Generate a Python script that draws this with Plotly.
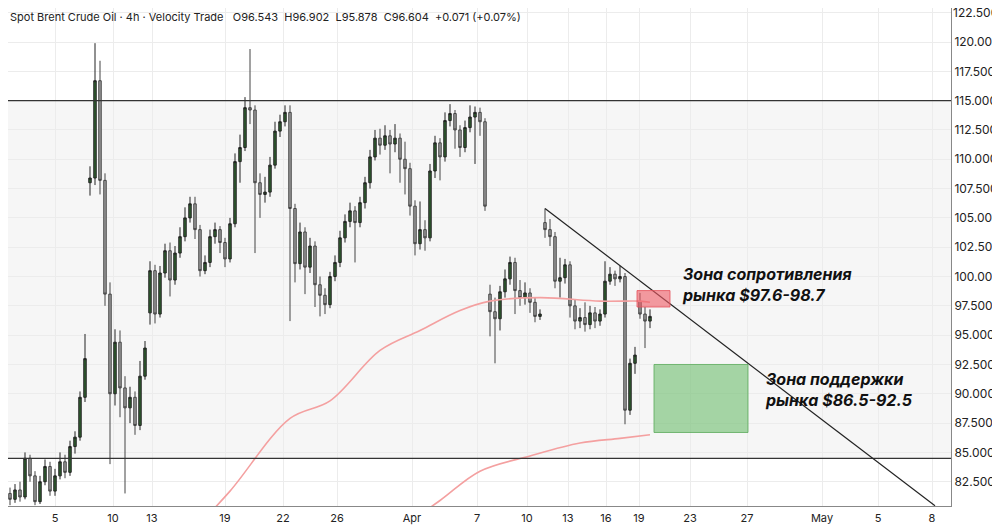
import plotly.graph_objects as go

# 4h candles, x = candle number
closes = [81.5, 81.0, 81.8, 81.2, 84.5, 83.0, 80.8, 82.5, 83.8, 81.7,
          83.0, 84.2, 83.3, 85.5, 86.3, 89.7, 93.0, 108.4, 116.7, 108.2,
          98.5, 90.0, 94.4, 90.5, 88.8, 89.7, 87.3, 91.5, 93.9, 100.5,
          96.8, 100.3, 102.2, 99.7, 102.0, 103.4, 105.0, 106.2, 104.0, 100.5,
          101.2, 103.4, 104.0, 102.9, 101.5, 104.5, 109.8, 111.0, 114.4, 114.2,
          108.0, 107.0, 107.2, 109.5, 112.4, 113.2, 114.0, 105.8, 101.1, 103.8,
          100.8, 102.6, 99.3, 98.4, 97.6, 100.0, 101.2, 103.3, 104.7, 105.6,
          104.6, 106.3, 108.0, 110.2, 111.8, 111.2, 112.0, 111.3, 111.8, 110.0,
          109.2, 106.0, 102.8, 104.0, 103.3, 109.0, 111.4, 110.2, 113.3, 113.9,
          112.5, 111.0, 112.7, 113.6, 114.0, 113.2, 106.0, 97.0, 96.4, 98.7,
          99.8, 101.2, 98.8, 98.2, 98.6, 97.8, 96.6, 96.8, 104.0, 103.4,
          99.6, 99.9, 101.0, 97.5, 96.2, 96.5, 95.9, 96.9, 96.2, 96.8,
          99.6, 100.2, 99.8, 100.0, 88.6, 92.6, 93.3, 96.8, 96.2, 96.6]
highs = [82.0, 82.0, 82.3, 82.5, 85.0, 84.8, 83.4, 83.0, 84.4, 84.2,
         83.6, 85.0, 84.8, 86.0, 86.8, 90.2, 95.1, 109.4, 119.9, 118.4,
         108.8, 99.5, 95.5, 95.4, 91.5, 90.6, 90.2, 92.8, 94.5, 101.3,
         101.0, 100.9, 102.8, 102.9, 102.6, 104.2, 105.9, 106.8, 106.8, 104.4,
         101.8, 104.0, 104.6, 104.3, 103.3, 105.0, 110.5, 112.1, 115.3, 119.4,
         114.6, 108.8, 108.5, 110.2, 113.2, 113.8, 114.6, 114.6, 106.2, 104.6,
         104.2, 103.3, 103.0, 100.0, 99.0, 100.4, 101.8, 103.9, 105.3, 106.3,
         106.0, 106.8, 108.5, 110.8, 112.5, 112.6, 112.9, 112.5, 113.0, 112.2,
         111.5, 109.7, 106.5, 106.4, 104.8, 109.6, 112.0, 111.8, 114.0, 114.7,
         114.2, 112.9, 113.3, 114.6, 114.5, 114.4, 113.5, 99.3, 98.2, 99.2,
         100.6, 101.7, 101.6, 99.7, 99.5, 99.0, 98.2, 97.2, 105.8, 104.9,
         103.8, 101.6, 101.5, 101.3, 98.0, 97.3, 97.8, 97.5, 97.4, 97.2,
         101.3, 100.8, 100.5, 100.9, 100.3, 93.0, 94.0, 98.6, 97.4, 97.2]
lows = [80.6, 80.5, 80.7, 80.8, 81.0, 82.5, 80.5, 80.6, 82.2, 81.3,
        81.3, 82.7, 82.8, 83.0, 84.9, 86.0, 89.3, 106.9, 107.8, 107.0,
        97.5, 84.0, 89.0, 88.0, 81.5, 87.5, 86.5, 86.9, 91.2, 95.9,
        96.0, 96.5, 99.9, 98.3, 99.3, 101.6, 103.0, 104.6, 103.2, 100.0,
        100.2, 100.8, 102.8, 102.0, 100.8, 101.2, 104.2, 108.0, 110.7, 113.0,
        102.0, 105.0, 106.3, 106.8, 109.2, 111.9, 112.8, 96.2, 99.5, 100.6,
        98.5, 100.3, 97.4, 96.6, 96.8, 97.3, 99.6, 100.8, 102.9, 104.2,
        101.2, 104.2, 105.8, 107.5, 109.9, 110.4, 110.8, 108.8, 110.6, 108.0,
        107.0, 105.2, 101.8, 102.3, 102.2, 103.0, 108.4, 108.2, 109.8, 112.8,
        110.9, 110.2, 110.6, 112.3, 109.6, 112.0, 105.6, 94.9, 92.6, 95.4,
        98.2, 99.3, 96.8, 97.5, 97.6, 96.9, 96.1, 96.3, 103.3, 102.6,
        99.0, 98.2, 99.4, 96.5, 95.5, 95.6, 95.3, 95.5, 95.6, 95.8,
        96.5, 99.3, 99.2, 99.5, 87.4, 88.2, 91.7, 96.4, 93.9, 95.6]
first_open = 81.0
gap_opens = {17: 108.0, 29: 96.9, 97: 98.5, 108: 104.6, 127: 97.9}

ma_fast_x = [38, 45, 57, 65, 75, 83, 91, 97, 107, 119, 127, 129]
ma_fast_y = [78.5, 81.7, 87.9, 89.4, 93.7, 95.4, 97.1, 97.9, 98.2, 97.9, 97.9, 97.8]
ma_slow_x = [79, 87, 95, 105, 115, 123, 129]
ma_slow_y = [78.5, 80.9, 83.4, 84.7, 85.8, 86.2, 86.5]

tick_pos = [10, 21.6, 29.4, 44, 55.6, 66.4, 81.4, 94.4, 104.4, 112.6, 120.2,
            126.8, 137, 148.4, 163.4, 174.6, 185.4]
tick_text = ["5", "10", "13", "19", "22", "26", "Apr", "7", "10", "13", "16",
             "19", "23", "27", "May", "5", "8"]
top_price_label = 122.5

range_top, range_bottom = 115.0, 84.5
trend_start = (108, 105.8)
trend_end = (186, 80.45)
resist_zone = (126.4, 133, 97.4, 98.8)
support_zone = (129.8, 148.6, 86.7, 92.5)

opens = []
prev = first_open
for i, c in enumerate(closes):
    opens.append(gap_opens.get(i, prev))
    prev = c
idx = list(range(len(closes)))

fig = go.Figure()
fig.add_shape(type="rect", xref="paper", x0=0, x1=1, y0=range_bottom, y1=range_top,
              fillcolor="#f6f6f6", line_width=0, layer="below")
fig.add_trace(go.Scatter(x=ma_fast_x, y=ma_fast_y, mode="lines", line_shape="spline",
                         line=dict(color="#f4a0a0", width=1.6), hoverinfo="skip"))
fig.add_trace(go.Scatter(x=ma_slow_x, y=ma_slow_y, mode="lines", line_shape="spline",
                         line=dict(color="#f4a0a0", width=1.6), hoverinfo="skip"))
fig.add_trace(go.Candlestick(
    x=idx, open=opens, high=highs, low=lows, close=closes,
    increasing=dict(fillcolor="#2f5f2f", line=dict(color="#222", width=1)),
    decreasing=dict(fillcolor="#9c9c9c", line=dict(color="#444", width=1)),
    whiskerwidth=0))

for yv in (range_top, range_bottom):
    fig.add_shape(type="line", xref="paper", x0=0, x1=1, y0=yv, y1=yv,
                  line=dict(color="#333", width=1.2))
fig.add_shape(type="line", x0=trend_start[0], y0=trend_start[1], x1=trend_end[0], y1=trend_end[1],
              line=dict(color="#222", width=1.2))
r = resist_zone
fig.add_shape(type="rect", x0=r[0], x1=r[1], y0=r[2], y1=r[3],
              fillcolor="rgba(240,90,100,0.6)", line=dict(color="rgba(230,80,90,0.8)", width=1))
s = support_zone
fig.add_shape(type="rect", x0=s[0], x1=s[1], y0=s[2], y1=s[3],
              fillcolor="rgba(110,190,110,0.6)", line=dict(color="rgba(90,170,90,0.8)", width=1))

lab_font = dict(family="Inter, Roboto", size=16, color="#111")
fig.add_annotation(x=135, y=99.3, text="<b><i>Зона сопротивления<br>рынка $97.6-98.7</i></b>",
                   showarrow=False, xanchor="left", align="left", font=lab_font)
fig.add_annotation(x=151.5, y=90.4, text="<b><i>Зона поддержки<br>рынка $86.5-92.5</i></b>",
                   showarrow=False, xanchor="left", align="left", font=lab_font)
fig.add_annotation(xref="paper", yref="paper", x=0, y=1, yanchor="top", xanchor="left",
                   text="Spot Brent Crude Oil · 4h · Velocity Trade   O96.543  H96.902  L95.878  C96.604  +0.071 (+0.07%)",
                   showarrow=False, font=dict(family="Inter, Roboto", size=11, color="#222"))
# top tick label gets dropped by plotly near the edge
fig.add_annotation(xref="paper", x=1, xshift=0, y=top_price_label, xanchor="left",
                   text=f"{top_price_label:.3f}", showarrow=False,
                   font=dict(family="Inter, Roboto", size=12, color="#222"))

fig.update_layout(
    width=1000, height=528, margin=dict(l=0, r=57, t=0, b=30),
    paper_bgcolor="white", plot_bgcolor="white", showlegend=False,
    xaxis=dict(range=[0.6, 189.2], tickvals=tick_pos, ticktext=tick_text,
               rangeslider=dict(visible=False), showgrid=True, gridcolor="#ececec",
               zeroline=False, ticks="", ticklabelstandoff=2,
               tickfont=dict(family="Inter, Roboto", size=11, color="#222"),
               showline=True, linecolor="#888"),
    yaxis=dict(side="right", range=[80.43, 122.9], dtick=2.5, tick0=82.5, tickformat=".3f",
               showgrid=True, gridcolor="#ececec", zeroline=False,
               tickfont=dict(family="Inter, Roboto", size=12, color="#222"),
               showline=True, linecolor="#888"),
)
fig.write_html("out.html")
